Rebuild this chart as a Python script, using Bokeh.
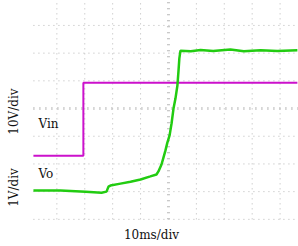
from bokeh.plotting import figure
from bokeh.models import Range1d
from bokeh.embed import file_html
from bokeh.resources import INLINE
from bokeh.core.properties import value
import math

# time in ms (10 ms/div), vertical values in screen divisions
vin_t = [-48.4, -30.5, -30.5, 46.2]
vin_v = [-1.70, -1.70, 0.93, 0.93]

vo_t = [-48.4, -38.7, -29.7, -24.0, -22.2, -21.5, -20.8, -17.2, -13.6, -10.0, -6.5, -4.3,
        -3.6, -2.5, -1.8, -1.1, -0.4, 0.4, 1.1, 1.8, 2.5, 3.2, 3.6, 3.9, 4.3,
        8.0, 11.5, 16.0, 22.2, 27.0, 33.0, 39.0, 46.2]
vo_v = [-2.96, -2.96, -3.00, -3.04, -3.00, -2.82, -2.78, -2.71, -2.64, -2.56, -2.45, -2.38,
        -2.27, -2.02, -1.77, -1.52, -1.23, -0.97, -0.54, 0.00, 0.36, 0.83, 1.37, 1.81, 2.09,
        2.07, 2.11, 2.08, 2.13, 2.07, 2.10, 2.08, 2.10]

grid_x_divs = [-4, -3, -2, -1, 1, 2, 3, 4]
grid_y_divs = [-4, -3, -2, -1, 1, 2, 3]
ms_per_div = 10

labels = ["10V/div", "Vin", "Vo", "1V/div", "10ms/div"]

p = figure(width=298, height=246, x_range=Range1d(-60.2, 46.6), y_range=Range1d(-4.98, 3.90),
           output_backend="svg", toolbar_location=None, min_border=0)
p.axis.visible = False
p.grid.visible = False
p.outline_line_color = None
p.background_fill_color = "white"
p.border_fill_color = "white"

gx0, gx1 = -48.4, 46.6
gy0, gy1 = -4.0, 3.90
gcol = "#b8b8b8"
# regular dotted grid
for d in grid_x_divs:
    p.line([d * ms_per_div, d * ms_per_div], [gy0, gy1], line_color=gcol, line_width=1, line_dash="1 4")
for d in grid_y_divs:
    p.line([gx0, gx1], [d, d], line_color=gcol, line_width=1, line_dash="1 4")
# center axes with tick marks
p.line([0, 0], [gy0, gy1], line_color=gcol, line_width=3, line_dash="1 5")
p.line([gx0, gx1], [0, 0], line_color=gcol, line_width=3, line_dash="1 5")

p.line(vin_t, vin_v, line_color="#cc11cc", line_width=2)
p.line(vo_t, vo_v, line_color="#22cc11", line_width=2.5)

font = value("DejaVu Serif")
p.text(x=[-55.2], y=[-0.11], text=[labels[0]], angle=math.pi / 2, text_font=font,
       text_font_size="12px", text_align="center", text_baseline="middle", text_color="#111111")
p.text(x=[-55.2], y=[-2.85], text=[labels[3]], angle=math.pi / 2, text_font=font,
       text_font_size="12px", text_align="center", text_baseline="middle", text_color="#111111")
p.text(x=[-46.6], y=[-0.54], text=[labels[1]], text_font=font,
       text_font_size="12px", text_align="left", text_baseline="middle", text_color="#111111")
p.text(x=[-46.6], y=[-2.35], text=[labels[2]], text_font=font,
       text_font_size="12px", text_align="left", text_baseline="middle", text_color="#111111")
p.text(x=[-6.1], y=[-4.58], text=[labels[4]], text_font=font,
       text_font_size="12px", text_align="center", text_baseline="middle", text_color="#111111")

open("out.html", "w").write(file_html(p, INLINE))
